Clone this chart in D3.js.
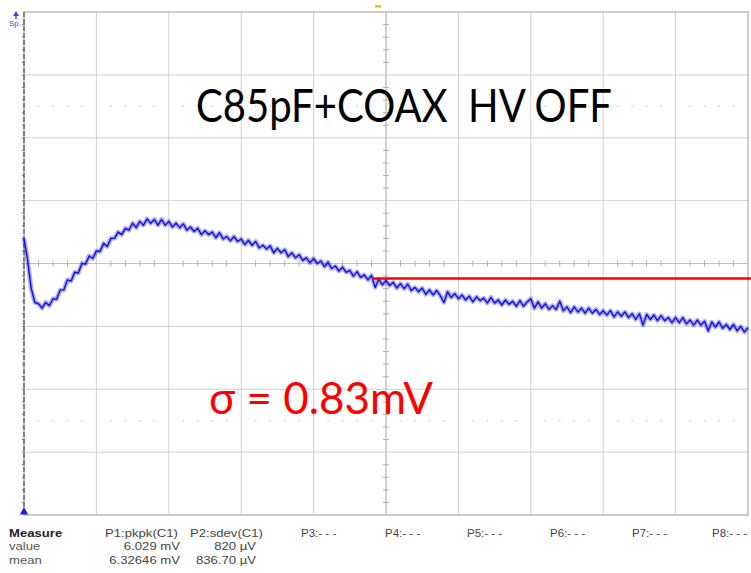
<!DOCTYPE html>
<html>
<head>
<meta charset="utf-8">
<script src="https://cdn.jsdelivr.net/npm/d3@7"></script>
<style>
  body { margin: 0; background: #fff; }
  svg { display: block; }
</style>
</head>
<body>
<div id="scope"></div>
<script>
var width = 751, height = 573;

// scope screen: 10 x 8 divisions
var xDivs = [0, 10], yDivs = [-4, 4];
var dt = 0.05; // sample spacing in divisions

// C1 trace, in vertical divisions, one sample every dt from t = 0
var trace = [
  0.40, 0.05, -0.40, -0.62,
  -0.64, -0.71, -0.62, -0.67, -0.56, -0.57, -0.42, -0.42, -0.26, -0.28,
  -0.14, -0.15, 0.00, -0.01, 0.12, 0.08, 0.20, 0.19, 0.32, 0.27,
  0.40, 0.40, 0.50, 0.46, 0.56, 0.53, 0.64, 0.57, 0.67, 0.61,
  0.71, 0.64, 0.70, 0.61, 0.70, 0.61, 0.67, 0.58, 0.64, 0.57,
  0.63, 0.53, 0.58, 0.51, 0.56, 0.46, 0.52, 0.46, 0.50, 0.41,
  0.49, 0.39, 0.43, 0.36, 0.43, 0.35, 0.39, 0.30, 0.37, 0.29,
  0.35, 0.25, 0.29, 0.23, 0.28, 0.17, 0.24, 0.17, 0.22, 0.11,
  0.17, 0.09, 0.14, 0.05, 0.09, 0.01, 0.08, 0.00, 0.04, -0.05,
  0.02, -0.08, -0.04, -0.12, -0.06, -0.14, -0.11, -0.20, -0.13, -0.22,
  -0.18, -0.26, -0.19, -0.38, -0.25, -0.34, -0.27, -0.35, -0.30, -0.39,
  -0.32, -0.40, -0.33, -0.43, -0.38, -0.45, -0.39, -0.49, -0.42, -0.50,
  -0.43, -0.51, -0.62, -0.45, -0.54, -0.48, -0.56, -0.50, -0.58, -0.52,
  -0.61, -0.53, -0.59, -0.55, -0.63, -0.54, -0.63, -0.58, -0.66, -0.58,
  -0.65, -0.60, -0.68, -0.59, -0.68, -0.61, -0.56, -0.71, -0.61, -0.71,
  -0.64, -0.73, -0.67, -0.73, -0.60, -0.75, -0.69, -0.78, -0.69, -0.77,
  -0.71, -0.79, -0.71, -0.79, -0.73, -0.81, -0.75, -0.82, -0.75, -0.85,
  -0.77, -0.84, -0.77, -0.86, -0.80, -0.89, -0.80, -0.98, -0.81, -0.89,
  -0.82, -0.91, -0.83, -0.91, -0.86, -0.94, -0.86, -0.94, -0.86, -0.96,
  -0.90, -0.98, -0.90, -0.98, -0.92, -1.07, -0.93, -1.01, -0.93, -1.03,
  -0.97, -1.05, -0.97, -1.07, -1.00, -1.09, -1.02
];

// red reference level drawn over the trace
var refLine = [4.81, 10.05];
var refLevel = -0.24;

var title = "C85pF+COAX  HV OFF";
var sigmaLabel = "\u03c3 = 0.83mV";

// measure table
var measureCols = ["P1:pkpk(C1)", "P2:sdev(C1)", "P3:- - -", "P4:- - -", "P5:- - -", "P6:- - -", "P7:- - -", "P8:- - -"];
var measureX = [105, 190, 301, 385, 467, 550, 632, 712];
var valueRow = ["6.029 mV", "820 \u00b5V"];
var meanRow = ["6.32646 mV", "836.70 \u00b5V"];
var valueRight = [180, 256];

var svg = d3.select("#scope").append("svg")
    .attr("width", width)
    .attr("height", height);

var x = d3.scaleLinear().domain(xDivs).range([24, 748]);
var y = d3.scaleLinear().domain(yDivs).range([515, 12]);

var grid = svg.append("g").attr("class", "grid");

// major divisions
grid.selectAll(".vdiv").data(d3.range(1, 10)).enter()
  .append("line")
    .attr("x1", function(d){ return x(d); })
    .attr("x2", function(d){ return x(d); })
    .attr("y1", y(4)).attr("y2", y(-4))
    .style("stroke", "#d0d0d0").style("stroke-width", 1);
grid.selectAll(".hdiv").data(d3.range(-3, 4)).enter()
  .append("line")
    .attr("y1", function(d){ return y(d); })
    .attr("y2", function(d){ return y(d); })
    .attr("x1", x(0)).attr("x2", x(10))
    .style("stroke", "#d0d0d0").style("stroke-width", 1);

// small dots at +-2.5 div
var subs = d3.range(0, 50).filter(function(i){ return i % 5 != 0; }).map(function(i){ return i / 5; });
[-2.5, 2.5].forEach(function(lv) {
  grid.selectAll(null).data(subs).enter()
    .append("rect")
      .attr("x", function(d){ return x(d) - 0.7; })
      .attr("y", y(lv) - 0.7)
      .attr("width", 1.4).attr("height", 1.4)
      .style("fill", "#cccccc");
});

// centre axes with minor ticks
var minorX = d3.range(1, 50).filter(function(i){ return i % 5 != 0; }).map(function(i){ return i / 5; });
var minorY = d3.range(-19, 20).filter(function(i){ return i % 5 != 0; }).map(function(i){ return i / 5; });
grid.append("line")
    .attr("x1", x(0)).attr("x2", x(10)).attr("y1", y(0)).attr("y2", y(0))
    .style("stroke", "#c2c2c2").style("stroke-width", 1.2);
grid.append("line")
    .attr("x1", x(5)).attr("x2", x(5)).attr("y1", y(4)).attr("y2", y(-4))
    .style("stroke", "#c2c2c2").style("stroke-width", 1.2);
grid.selectAll(".tx").data(minorX).enter()
  .append("line")
    .attr("x1", function(d){ return x(d); })
    .attr("x2", function(d){ return x(d); })
    .attr("y1", y(0) - 3).attr("y2", y(0) + 3)
    .style("stroke", "#b0b0b0");
grid.selectAll(".ty").data(minorY).enter()
  .append("line")
    .attr("y1", function(d){ return y(d); })
    .attr("y2", function(d){ return y(d); })
    .attr("x1", x(5) - 3).attr("x2", x(5) + 3)
    .style("stroke", "#b0b0b0");

// frame
grid.append("rect")
    .attr("x", x(0)).attr("y", y(4))
    .attr("width", x(10) - x(0)).attr("height", y(-4) - y(4))
    .style("fill", "none").style("stroke", "#c0c0c0").style("stroke-width", 1.6);

// left level axis, dashed
grid.append("line")
    .attr("x1", x(0)).attr("x2", x(0)).attr("y1", y(4)).attr("y2", y(-4))
    .style("stroke", "#6a6a6a").style("stroke-width", 1.5)
    .style("stroke-dasharray", "5,2");
grid.selectAll(".ly").data(minorY.concat(d3.range(-3, 4))).enter()
  .append("line")
    .attr("y1", function(d){ return y(d); })
    .attr("y2", function(d){ return y(d); })
    .attr("x1", x(0) - 2).attr("x2", x(0) + 1)
    .style("stroke", "#777");

// markers
svg.append("path")
    .attr("d", "M16,11 L13,16 L15.3,16 L15.3,19 L16.7,19 L16.7,16 L19,16 Z")
    .style("fill", "#3c3ce6");
svg.append("text")
    .attr("x", 15).attr("y", 26)
    .attr("text-anchor", "middle")
    .style("font-family", "Liberation Sans, Arial, sans-serif")
    .style("font-size", "8px")
    .style("fill", "#4646e0")
    .text("Sp.");
svg.append("rect")
    .attr("x", x(4.85)).attr("y", 5)
    .attr("width", 6).attr("height", 2.5)
    .style("fill", "#c6d200");
svg.append("path")
    .attr("d", d3.symbol().type(d3.symbolTriangle).size(30))
    .attr("transform", "translate(" + x(0) + "," + (y(-4) - 3) + ")")
    .style("fill", "#1c1ce0");

// trace: soft band for the noise, then the sample line
var line = d3.line()
    .x(function(d, i){ return x(i * dt); })
    .y(function(d){ return y(d); });

svg.append("path")
    .datum(trace)
    .attr("d", line)
    .style("fill", "none")
    .style("stroke", "#3030e6")
    .style("stroke-opacity", 0.4)
    .style("stroke-width", 4.5)
    .style("stroke-linejoin", "round");
svg.append("path")
    .datum(trace)
    .attr("d", line)
    .style("fill", "none")
    .style("stroke", "#1010d8")
    .style("stroke-width", 1.4)
    .style("stroke-linejoin", "round");

// red level
svg.append("line")
    .attr("x1", x(refLine[0])).attr("x2", x(refLine[1]))
    .attr("y1", y(refLevel)).attr("y2", y(refLevel))
    .style("stroke", "#ff0000").style("stroke-width", 2.5);

// annotations
svg.append("text")
    .attr("x", 196).attr("y", 122)
    .attr("textLength", 416).attr("lengthAdjust", "spacingAndGlyphs")
    .style("font-family", "Lato, 'Open Sans', sans-serif")
    .style("font-size", "47px")
    .style("fill", "#000")
    .style("white-space", "pre")
    .attr("xml:space", "preserve")
    .text(title);
svg.append("text")
    .attr("x", 209).attr("y", 414)
    .attr("textLength", 224).attr("lengthAdjust", "spacingAndGlyphs")
    .style("font-family", "Lato, 'Open Sans', sans-serif")
    .style("font-size", "45px")
    .style("fill", "#ff0000")
    .text(sigmaLabel);

// measure table (screen font is stretched sideways)
var sx = 1.25;
var tbl = svg.append("g")
    .style("font-family", "Liberation Sans, Arial, sans-serif")
    .style("font-size", "10.5px");
function cell(tx, ty, str, anchor, k) {
  return tbl.append("text")
      .attr("transform", "translate(" + tx + "," + ty + ") scale(" + (k || sx) + ",1)")
      .attr("text-anchor", anchor || "start")
      .style("fill", "#444")
      .text(str);
}
cell(9, 537, "Measure").style("font-weight", "bold").style("fill", "#222");
cell(9, 550, "value").style("fill", "#555");
cell(9, 564, "mean").style("fill", "#555");
measureCols.forEach(function(d, i){ cell(measureX[i], 537, d, "start", i > 1 ? 1.1 : sx); });
valueRow.forEach(function(d, i){ cell(valueRight[i], 550, d, "end"); });
meanRow.forEach(function(d, i){ cell(valueRight[i], 564, d, "end"); });
</script>
</body>
</html>
